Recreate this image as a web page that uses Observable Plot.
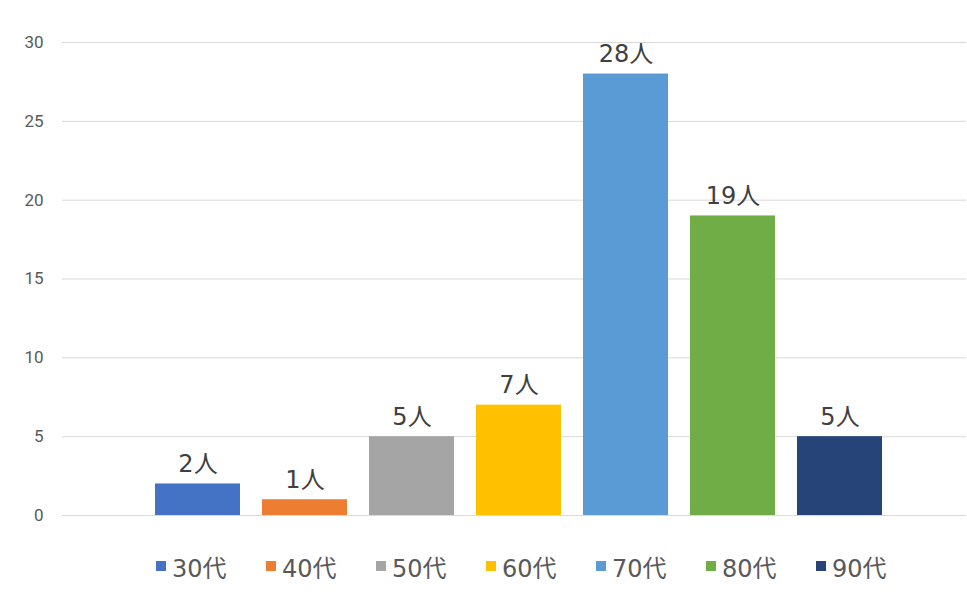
<!DOCTYPE html>
<html><head><meta charset="utf-8">
<script src="https://cdn.jsdelivr.net/npm/d3@7"></script>
<script src="https://cdn.jsdelivr.net/npm/@observablehq/plot@0.6"></script>
<style>
body{margin:0;background:#fff;font-family:"DejaVu Sans","Noto Sans CJK JP",sans-serif;}
#legend{display:flex;justify-content:flex-start;height:52px;align-items:center;padding-left:156px;box-sizing:border-box;width:967px;}
.item{display:flex;align-items:center;width:110px;font-size:24px;color:#595959;}
.sw{width:10px;height:10px;margin-right:6px;}
</style></head>
<body><div id="chart"></div><div id="legend"></div>
<script>
const categories = ["30代","40代","50代","60代","70代","80代","90代"];
const values = [2,1,5,7,28,19,5];
const colors = ["#4472C4","#ED7D31","#A5A5A5","#FFC000","#5B9BD5","#70AD47","#264478"];
const yTicks = [0,5,10,15,20,25,30];
const data = categories.map((c,i)=>({c, v: values[i]}));

const chart = Plot.plot({
  width: 967, height: 540,
  marginLeft: 62, marginRight: 1, marginTop: 42, marginBottom: 25,
  style: {fontFamily: '"DejaVu Sans","Noto Sans CJK JP",sans-serif', background: "#fff"},
  x: {domain: categories, range: [154, 883], paddingInner: 0.21, paddingOuter: 0, axis: null},
  y: {domain: [0, 30], ticks: yTicks, grid: false, axis: null},
  color: {domain: categories, range: colors},
  marks: [
    Plot.gridY(yTicks, {stroke: "#d9d9d9", strokeOpacity: 1, strokeWidth: 1}),
    Plot.text(yTicks, {y: d => d, text: d => String(d), frameAnchor: "left", textAnchor: "end", dx: -19, fontSize: 17, fill: "#595959", fontFamily: "Roboto, 'Liberation Sans', sans-serif"}),
    Plot.barY(data, {x: "c", y: "v", fill: "c"}),
    Plot.text(data, {x: "c", y: "v", text: d => d.v + "人", lineAnchor: "bottom", dy: -12, fontSize: 24, fill: "#404040"})
  ]
});
document.getElementById("chart").appendChild(chart);
const lg = document.getElementById("legend");
categories.forEach((c,i)=>{
  const it = document.createElement("div"); it.className="item";
  const sw = document.createElement("div"); sw.className="sw"; sw.style.background=colors[i];
  const t = document.createElement("span"); t.textContent=c;
  it.appendChild(sw); it.appendChild(t); lg.appendChild(it);
});
</script></body></html>
